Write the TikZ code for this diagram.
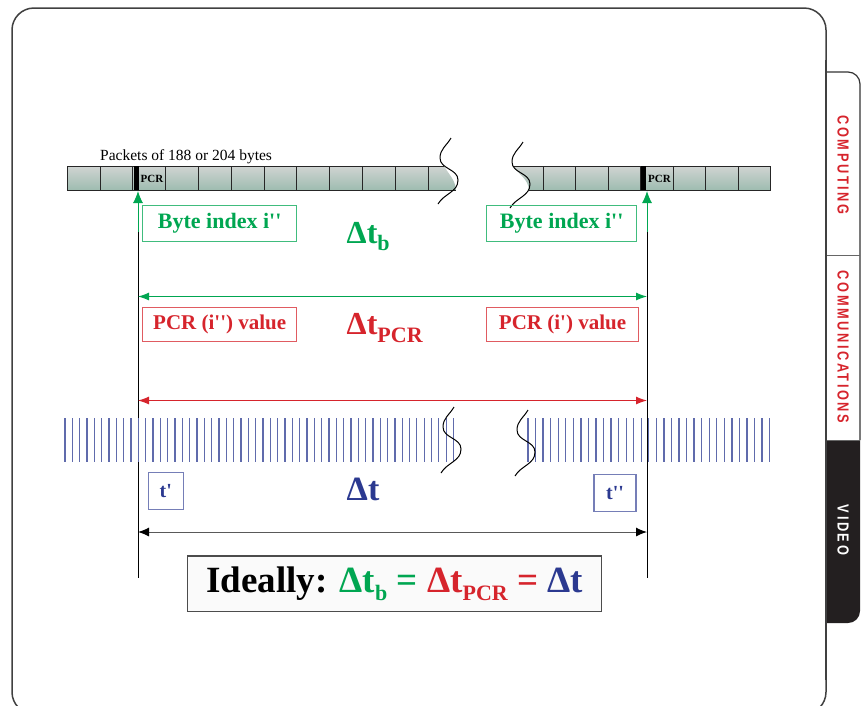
\documentclass[tikz,border=0pt]{standalone}
\usepackage{fontspec}
\setmainfont{Liberation Serif}
\newfontfamily\tabfont[FakeStretch=0.8,LetterSpace=16]{Liberation Sans}
\usetikzlibrary{arrows.meta}

\definecolor{pktgreen}{RGB}{0,166,81}
\definecolor{pcrred}{RGB}{214,36,44}
\definecolor{clkblue}{RGB}{43,57,144}
\definecolor{tabdark}{RGB}{35,31,32}
\definecolor{celltop}{RGB}{208,212,210}
\definecolor{cellbot}{RGB}{158,188,176}

\newcommand\sq{\textquotesingle}
\newcommand\subtxt[3]{\raisebox{-#2pt}{\fontsize{#1}{#1}\selectfont #3}}

\tikzset{squig/.pic = {\draw[line width=1pt] (11,-20) to[out=-120,in=90] (0,0)
                        to[out=-90,in=90] (18,22) to[out=-90,in=60] (-2,46);}}

\begin{document}
\begin{tikzpicture}[x=1pt,y=-1pt,
                    cell/.style = {draw=black!85, line width=0.9pt},
                    lbl/.style = {draw, line width=1.1pt, inner sep=0pt,
                                  font=\bfseries\fontsize{22}{22}\selectfont},
                    big/.style = {anchor=base west, inner sep=0pt,
                                  font=\bfseries\fontsize{32}{32}\selectfont},
                    tick/.style = {line width=1.3pt, draw=clkblue!75},
                    dim/.style = {line width=1pt, {Latex[length=11pt,width=8pt]}-{Latex[length=11pt,width=8pt]}},
                    tabtxt/.style = {rotate=-90, font=\tabfont\bfseries\fontsize{16}{16}\selectfont}]
\useasboundingbox (0,0) rectangle (864,705);
\clip (0,0) rectangle (864,705);

% page frame and side tab
\draw[line width=1.5pt, black!75, rounded corners=22pt] (12,8) rectangle (826,714);
\begin{scope}
  \clip (826,440) rectangle (870,705);
  \fill[tabdark, rounded corners=12pt] (800,400) rectangle (860,623);
\end{scope}
\draw[line width=1.2pt, black!80, rounded corners=12pt] (826,72) -- (860,72) -- (860,440);
\draw[line width=0.8pt, black!60] (826,255) -- (860,255);
\draw[line width=0.8pt, black!60] (826,440) -- (860,440);
\draw[line width=1.5pt, black!75] (826,60) -- (826,680);
\node[tabtxt, text=pcrred] (computing) at (843,165) {COMPUTING};
\node[tabtxt, text=pcrred] (communications) at (843,347) {COMMUNICATIONS};
\node[tabtxt, text=white] (video) at (843,530) {VIDEO};

% transport packets
\node[anchor=base west, inner sep=0pt, font=\fontsize{15.5}{15.5}\selectfont] (packets) at (100,160) {Packets of 188 or 204 bytes};
\shade[top color=celltop, bottom color=cellbot] (67,166) -- (444,166) to[out=-60,in=95] (456,190) -- (67,190) -- cycle;
\shade[top color=celltop, bottom color=cellbot] (513,166) to[out=-55,in=95] (529,190) -- (770,190) -- (770,166) -- cycle;
\draw[cell] (444,166) -- (67,166) -- (67,190) -- (456,190);
\draw[cell] (513,166) -- (770,166) -- (770,190) -- (529,190);
\foreach \i in {1,...,11} \draw[cell] ({67.3+32.8*\i},166) -- ++(0,24);
\foreach \i in {0,...,6} \draw[cell] ({543.3+32.45*\i},166) -- ++(0,24);
\fill (134,166) rectangle (138.5,190);
\fill (641,166) rectangle (646,190);
\node[font=\bfseries\fontsize{11}{11}\selectfont, inner sep=0pt] (pcra) at (152,178.5) {PCR};
\node[font=\bfseries\fontsize{11}{11}\selectfont, inner sep=0pt] (pcrb) at (659.5,178.5) {PCR};
\pic at (440,158) {squig};
\pic at (512,162) {squig};

% reference lines
\coordinate (la) at (138,191);
\coordinate (lb) at (647,191);
\draw[line width=1pt] (138,205) -- (138,578);
\draw[line width=1pt] (647,205) -- (647,578);
\draw[pktgreen, line width=1pt, -{Latex[length=12pt,width=10pt]}] (138,232) -- (la);
\draw[pktgreen, line width=1pt, -{Latex[length=12pt,width=10pt]}] (647,232) -- (lb);

% byte index
\node[lbl, draw=pktgreen!75, text=pktgreen, minimum width=154pt, minimum height=36.5pt] (bytea) at (219.7,223.3) {Byte index i\sq\sq};
\node[lbl, draw=pktgreen!75, text=pktgreen, minimum width=150pt, minimum height=36.5pt] (byteb) at (561.7,223.3) {Byte index i\sq\sq};
\node[big, text=pktgreen] (dtb) at (346.5,243) {Δt\subtxt{22}{7}{b}};
\draw[dim, pktgreen] (138,296.5) -- (647,296.5);

% PCR values
\node[lbl, draw=pcrred!75, text=pcrred, minimum width=154pt, minimum height=34.5pt, font=\bfseries\fontsize{21}{21}\selectfont] (pcrvala) at (219.7,324.3) {PCR (i\sq\sq) value};
\node[lbl, draw=pcrred!75, text=pcrred, minimum width=151.5pt, minimum height=34.5pt, font=\bfseries\fontsize{21}{21}\selectfont] (pcrvalb) at (562.5,324.3) {PCR (i\sq) value};
\node[big, text=pcrred] (dtpcr) at (346.5,334) {Δt\subtxt{22}{8}{PCR}};
\draw[dim, pcrred] (138,400.5) -- (647,400.5);

% system clock
\foreach \i in {0,...,53} \draw[tick] ({65+7.33*\i},418) -- ++(0,44);
\foreach \i in {0,...,32} \draw[tick] ({528+7.55*\i},418) -- ++(0,44);
\pic at (443,427) {squig};
\pic at (517,430) {squig};
\node[lbl, draw=clkblue!65, text=clkblue, minimum width=35pt, minimum height=37pt, font=\bfseries\fontsize{20}{20}\selectfont] (ta) at (165.8,491.3) {t\sq};
\node[lbl, draw=clkblue!65, text=clkblue, minimum width=42pt, minimum height=37pt, font=\bfseries\fontsize{20}{20}\selectfont] (tb) at (615,493.3) {t\sq\sq};
\node[big, text=clkblue, font=\bfseries\fontsize{34}{34}\selectfont] (dt) at (346.5,500) {Δt};
\draw[dim, black!65, {Latex[length=11pt,width=9pt,black]}-{Latex[length=11pt,width=9pt,black]}] (138,532) -- (647,532);

% conclusion
\node[draw=black!70, fill=black!2, line width=1.2pt, minimum width=414pt, minimum height=55.5pt,
      font=\bfseries\fontsize{37}{37}\selectfont] (ideal) at (394.5,583.8)
  {Ideally: \textcolor{pktgreen}{Δt\subtxt{22}{8}{b} =} \textcolor{pcrred}{Δt\subtxt{22}{8}{PCR} =} \textcolor{clkblue}{Δt}};
\end{tikzpicture}
\end{document}
